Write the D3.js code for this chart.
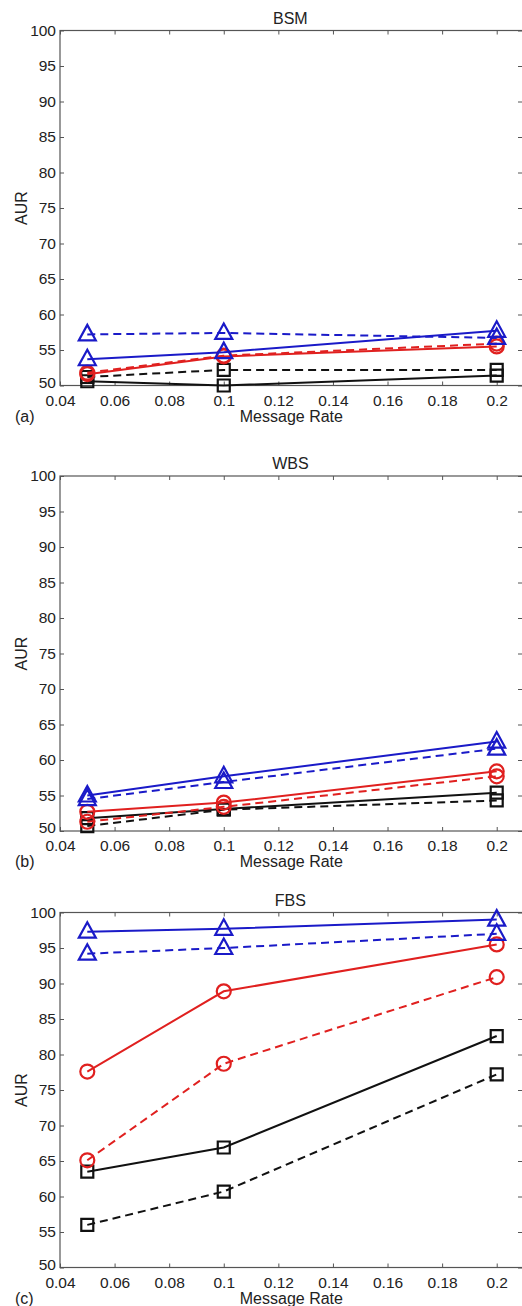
<!DOCTYPE html>
<html>
<head>
<meta charset="utf-8">
<script src="https://cdn.jsdelivr.net/npm/d3@7"></script>
<style>
  html, body { margin: 0; padding: 0; background: #fff; }
  svg { display: block; }
  text { font-family: "Liberation Sans", Arial, Helvetica, sans-serif; fill: #222; }
</style>
</head>
<body>
<svg id="chart" width="522" height="1306"></svg>
<script>
// Message rates on the x axis
const rates = [0.05, 0.1, 0.2];
const xTicks = [0.04, 0.06, 0.08, 0.1, 0.12, 0.14, 0.16, 0.18, 0.2];
const xTickLabels = ["0.04", "0.06", "0.08", "0.1", "0.12", "0.14", "0.16", "0.18", "0.2"];
const yTicks = [50, 55, 60, 65, 70, 75, 80, 85, 90, 95, 100];

const panelTitles = ["BSM", "WBS", "FBS"];
const panelTags = ["(a)", "(b)", "(c)"];

// AUR per series, one array per panel
const bsmBlueSolid   = [53.7, 54.7, 57.7];
const bsmBlueDashed  = [57.2, 57.4, 56.7];
const bsmRedSolid    = [51.6, 54.1, 55.5];
const bsmRedDashed   = [51.8, 54.2, 55.9];
const bsmBlackSolid  = [50.6, 50.0, 51.4];
const bsmBlackDashed = [51.2, 52.2, 52.2];

const wbsBlueSolid   = [55.0, 57.7, 62.6];
const wbsBlueDashed  = [54.5, 56.9, 61.6];
const wbsRedSolid    = [52.7, 54.0, 58.4];
const wbsRedDashed   = [51.3, 53.4, 57.7];
const wbsBlackSolid  = [51.8, 53.1, 55.4];
const wbsBlackDashed = [50.7, 53.0, 54.3];

const fbsBlueSolid   = [97.3, 97.7, 99.0];
const fbsBlueDashed  = [94.2, 95.0, 97.0];
const fbsRedSolid    = [77.6, 88.9, 95.5];
const fbsRedDashed   = [65.1, 78.7, 90.9];
const fbsBlackSolid  = [63.5, 66.9, 82.6];
const fbsBlackDashed = [56.0, 60.7, 77.2];

const panelSeries = [
  [bsmBlackSolid, bsmBlackDashed, bsmRedSolid, bsmRedDashed, bsmBlueSolid, bsmBlueDashed],
  [wbsBlackSolid, wbsBlackDashed, wbsRedSolid, wbsRedDashed, wbsBlueSolid, wbsBlueDashed],
  [fbsBlackSolid, fbsBlackDashed, fbsRedSolid, fbsRedDashed, fbsBlueSolid, fbsBlueDashed]
];
// style of each series slot: colour, marker, dashed
const seriesStyle = [
  { color: "#111111", marker: "square", dashed: false },
  { color: "#111111", marker: "square", dashed: true },
  { color: "#e0201f", marker: "circle", dashed: false },
  { color: "#e0201f", marker: "circle", dashed: true },
  { color: "#1a1ac8", marker: "triangle", dashed: false },
  { color: "#1a1ac8", marker: "triangle", dashed: true }
];

const svg = d3.select("#chart");
const left = 60, right = 524, plotH = 355;
const panelTops = [30.5, 476, 912.5];
const fontFamily = "Liberation Sans, Arial, sans-serif";

const x = d3.scaleLinear().domain([0.04, 0.21]).range([left, right]);

panelTops.forEach((top, pi) => {
  const y = d3.scaleLinear().domain([50, 100]).range([top + plotH, top]);
  const g = svg.append("g");
  const bottom = top + plotH;
  const frameColor = "#555";

  // frame
  g.append("rect")
    .attr("x", left).attr("y", top)
    .attr("width", right - left).attr("height", plotH)
    .attr("fill", "none").attr("stroke", frameColor).attr("stroke-width", 1.2);

  // x ticks (inward, top and bottom)
  const xAxisB = d3.axisBottom(x).tickValues(xTicks)
    .tickFormat((d, i) => xTickLabels[i]).tickSizeInner(-4).tickSizeOuter(0).tickPadding(9);
  const gxb = g.append("g").attr("transform", `translate(0,${bottom})`).call(xAxisB);
  gxb.select(".domain").remove();
  gxb.selectAll("line").attr("stroke", frameColor);
  gxb.selectAll("text").attr("font-size", 15.5).attr("fill", "#222")
    .attr("font-family", fontFamily);

  const xAxisT = d3.axisTop(x).tickValues(xTicks).tickFormat("").tickSizeInner(-4).tickSizeOuter(0);
  const gxt = g.append("g").attr("transform", `translate(0,${top})`).call(xAxisT);
  gxt.select(".domain").remove();
  gxt.selectAll("line").attr("stroke", frameColor);

  // y ticks (inward, left and right)
  const yAxisL = d3.axisLeft(y).tickValues(yTicks).tickFormat(d3.format("d"))
    .tickSizeInner(-4).tickSizeOuter(0).tickPadding(4);
  const gyl = g.append("g").attr("transform", `translate(${left},0)`).call(yAxisL);
  gyl.select(".domain").remove();
  gyl.selectAll("line").attr("stroke", frameColor);
  gyl.selectAll("text").attr("font-size", 15.5).attr("fill", "#222")
    .attr("font-family", fontFamily)
    .attr("dy", d => d === 50 ? "0.1em" : "0.32em");

  const yAxisR = d3.axisRight(y).tickValues(yTicks).tickFormat("").tickSizeInner(-4).tickSizeOuter(0);
  const gyr = g.append("g").attr("transform", `translate(${right - 2},0)`).call(yAxisR);
  gyr.select(".domain").remove();
  gyr.selectAll("line").attr("stroke", frameColor);

  // title, axis labels, panel tag
  g.append("text").attr("x", (left + x(0.2)) / 2 + 12).attr("y", top - 7)
    .attr("text-anchor", "middle").attr("font-size", 16).text(panelTitles[pi]);
  g.append("text").attr("x", (left + x(0.2)) / 2 + 13).attr("y", bottom + 36)
    .attr("text-anchor", "middle").attr("font-size", 16).text("Message Rate");
  g.append("text").attr("x", 15).attr("y", bottom + 36)
    .attr("font-size", 16).text(panelTags[pi]);
  g.append("text")
    .attr("transform", `translate(27,${top + plotH / 2}) rotate(-90)`)
    .attr("text-anchor", "middle").attr("font-size", 16).text("AUR");

  // series
  const line = d3.line().x(d => x(d[0])).y(d => y(d[1]));
  panelSeries[pi].forEach((vals, si) => {
    const st = seriesStyle[si];
    const pts = rates.map((r, k) => [r, vals[k]]);
    g.append("path").datum(pts).attr("d", line)
      .attr("fill", "none").attr("stroke", st.color).attr("stroke-width", 2)
      .attr("stroke-dasharray", st.dashed ? "8,5" : null);

    const mk = g.append("g").selectAll("path.mk").data(pts).join("path")
      .attr("class", "mk")
      .attr("transform", d => `translate(${x(d[0])},${y(d[1])})`)
      .attr("fill", "none").attr("stroke", st.color).attr("stroke-width", 2.2);
    if (st.marker === "square") {
      mk.attr("d", "M-6,-6H6V6H-6Z");
    } else if (st.marker === "circle") {
      mk.attr("d", d3.symbol(d3.symbolCircle, Math.PI * 7 * 7)());
    } else {
      mk.attr("d", "M0,-9.5L8.5,6H-8.5Z");
    }
  });
});
</script>
</body>
</html>
